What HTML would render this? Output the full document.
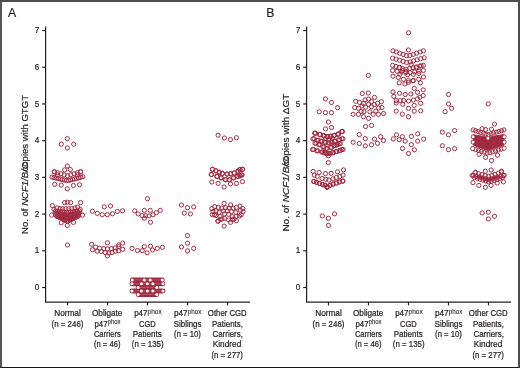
<!DOCTYPE html>
<html><head><meta charset="utf-8"><style>
html,body{margin:0;padding:0;background:#fff;}
body{width:520px;height:368px;overflow:hidden;position:relative;font-family:"Liberation Sans",sans-serif;}
.frame{position:absolute;left:0;top:0;width:520px;height:368px;box-sizing:border-box;border-style:solid;border-color:#4d4d4d #4d4d4d #161616 #555;border-width:2px 2px 1px 2px;}
svg{position:absolute;left:0;top:0;will-change:transform;}
</style></head><body>
<svg width="520" height="368" viewBox="0 0 520 368">
<g stroke="#231f20" stroke-width="1.2" fill="none"><path d="M45.6,26.5 V302.1 H250" stroke-linejoin="round"/><line x1="42.2" y1="287.50" x2="45.6" y2="287.50" /><line x1="42.2" y1="250.79" x2="45.6" y2="250.79" /><line x1="42.2" y1="214.08" x2="45.6" y2="214.08" /><line x1="42.2" y1="177.37" x2="45.6" y2="177.37" /><line x1="42.2" y1="140.66" x2="45.6" y2="140.66" /><line x1="42.2" y1="103.95" x2="45.6" y2="103.95" /><line x1="42.2" y1="67.24" x2="45.6" y2="67.24" /><line x1="42.2" y1="30.53" x2="45.6" y2="30.53" /><line x1="67.5" y1="302" x2="67.5" y2="305.4" /><line x1="107.5" y1="302" x2="107.5" y2="305.4" /><line x1="147.5" y1="302" x2="147.5" y2="305.4" /><line x1="187.5" y1="302" x2="187.5" y2="305.4" /><line x1="227.5" y1="302" x2="227.5" y2="305.4" /><path d="M306.6,26.5 V302.1 H511" stroke-linejoin="round"/><line x1="303.20000000000005" y1="287.50" x2="306.6" y2="287.50" /><line x1="303.20000000000005" y1="250.79" x2="306.6" y2="250.79" /><line x1="303.20000000000005" y1="214.08" x2="306.6" y2="214.08" /><line x1="303.20000000000005" y1="177.37" x2="306.6" y2="177.37" /><line x1="303.20000000000005" y1="140.66" x2="306.6" y2="140.66" /><line x1="303.20000000000005" y1="103.95" x2="306.6" y2="103.95" /><line x1="303.20000000000005" y1="67.24" x2="306.6" y2="67.24" /><line x1="303.20000000000005" y1="30.53" x2="306.6" y2="30.53" /><line x1="328.5" y1="302" x2="328.5" y2="305.4" /><line x1="368.5" y1="302" x2="368.5" y2="305.4" /><line x1="408.5" y1="302" x2="408.5" y2="305.4" /><line x1="448.5" y1="302" x2="448.5" y2="305.4" /><line x1="488.5" y1="302" x2="488.5" y2="305.4" /></g>
<g fill="#231f20" stroke="#231f20" stroke-width="0.2" font-family="Liberation Sans, sans-serif" font-size="8.2"><text x="39.2" y="290.10" text-anchor="end">0</text><text x="39.2" y="253.39" text-anchor="end">1</text><text x="39.2" y="216.68" text-anchor="end">2</text><text x="39.2" y="179.97" text-anchor="end">3</text><text x="39.2" y="143.26" text-anchor="end">4</text><text x="39.2" y="106.55" text-anchor="end">5</text><text x="39.2" y="69.84" text-anchor="end">6</text><text x="39.2" y="33.13" text-anchor="end">7</text><text x="300.2" y="290.10" text-anchor="end">0</text><text x="300.2" y="253.39" text-anchor="end">1</text><text x="300.2" y="216.68" text-anchor="end">2</text><text x="300.2" y="179.97" text-anchor="end">3</text><text x="300.2" y="143.26" text-anchor="end">4</text><text x="300.2" y="106.55" text-anchor="end">5</text><text x="300.2" y="69.84" text-anchor="end">6</text><text x="300.2" y="33.13" text-anchor="end">7</text></g>
<g fill="#231f20" stroke="#231f20" stroke-width="0.22" font-family="Liberation Sans, sans-serif" font-size="8.3"><text x="54.20" y="316.4" textLength="26.6" lengthAdjust="spacingAndGlyphs">Normal</text><text x="51.50" y="326.7" textLength="32.0" lengthAdjust="spacingAndGlyphs">(n = 246)</text><text x="92.00" y="316.4" textLength="30.4" lengthAdjust="spacingAndGlyphs">Obligate</text><text x="94.50" y="326.7" textLength="13.1" lengthAdjust="spacingAndGlyphs">p47</text><text x="107.80" y="324.00" font-size="6.4" stroke-width="0.08" textLength="12.7" lengthAdjust="spacingAndGlyphs">phox</text><text x="93.90" y="337.1" textLength="26.8" lengthAdjust="spacingAndGlyphs">Carriers</text><text x="93.95" y="347.4" textLength="26.5" lengthAdjust="spacingAndGlyphs">(n = 46)</text><text x="134.25" y="316.4" textLength="13.1" lengthAdjust="spacingAndGlyphs">p47</text><text x="147.55" y="313.70" font-size="6.4" stroke-width="0.08" textLength="14.2" lengthAdjust="spacingAndGlyphs">phox</text><text x="139.05" y="326.7" textLength="16.7" lengthAdjust="spacingAndGlyphs">CGD</text><text x="132.65" y="337.1" textLength="29.1" lengthAdjust="spacingAndGlyphs">Patients</text><text x="131.85" y="347.4" textLength="31.7" lengthAdjust="spacingAndGlyphs">(n = 135)</text><text x="174.05" y="316.4" textLength="13.6" lengthAdjust="spacingAndGlyphs">p47</text><text x="187.85" y="313.70" font-size="6.4" stroke-width="0.08" textLength="13.5" lengthAdjust="spacingAndGlyphs">phox</text><text x="173.85" y="326.7" textLength="27.5" lengthAdjust="spacingAndGlyphs">Siblings</text><text x="174.05" y="337.1" textLength="26.9" lengthAdjust="spacingAndGlyphs">(n = 10)</text><text x="207.85" y="316.4" textLength="38.9" lengthAdjust="spacingAndGlyphs">Other CGD</text><text x="212.05" y="326.7" textLength="30.9" lengthAdjust="spacingAndGlyphs">Patients,</text><text x="212.45" y="337.1" textLength="30.5" lengthAdjust="spacingAndGlyphs">Carriers,</text><text x="212.70" y="347.4" textLength="28.6" lengthAdjust="spacingAndGlyphs">Kindred</text><text x="211.50" y="357.7" textLength="31.4" lengthAdjust="spacingAndGlyphs">(n = 277)</text><text x="315.20" y="316.4" textLength="26.6" lengthAdjust="spacingAndGlyphs">Normal</text><text x="312.50" y="326.7" textLength="32.0" lengthAdjust="spacingAndGlyphs">(n = 246)</text><text x="353.00" y="316.4" textLength="30.4" lengthAdjust="spacingAndGlyphs">Obligate</text><text x="355.50" y="326.7" textLength="13.1" lengthAdjust="spacingAndGlyphs">p47</text><text x="368.80" y="324.00" font-size="6.4" stroke-width="0.08" textLength="12.7" lengthAdjust="spacingAndGlyphs">phox</text><text x="354.90" y="337.1" textLength="26.8" lengthAdjust="spacingAndGlyphs">Carriers</text><text x="354.95" y="347.4" textLength="26.5" lengthAdjust="spacingAndGlyphs">(n = 46)</text><text x="395.25" y="316.4" textLength="13.1" lengthAdjust="spacingAndGlyphs">p47</text><text x="408.55" y="313.70" font-size="6.4" stroke-width="0.08" textLength="14.2" lengthAdjust="spacingAndGlyphs">phox</text><text x="400.05" y="326.7" textLength="16.7" lengthAdjust="spacingAndGlyphs">CGD</text><text x="393.65" y="337.1" textLength="29.1" lengthAdjust="spacingAndGlyphs">Patients</text><text x="392.85" y="347.4" textLength="31.7" lengthAdjust="spacingAndGlyphs">(n = 135)</text><text x="435.05" y="316.4" textLength="13.6" lengthAdjust="spacingAndGlyphs">p47</text><text x="448.85" y="313.70" font-size="6.4" stroke-width="0.08" textLength="13.5" lengthAdjust="spacingAndGlyphs">phox</text><text x="434.85" y="326.7" textLength="27.5" lengthAdjust="spacingAndGlyphs">Siblings</text><text x="435.05" y="337.1" textLength="26.9" lengthAdjust="spacingAndGlyphs">(n = 10)</text><text x="468.85" y="316.4" textLength="38.9" lengthAdjust="spacingAndGlyphs">Other CGD</text><text x="473.05" y="326.7" textLength="30.9" lengthAdjust="spacingAndGlyphs">Patients,</text><text x="473.45" y="337.1" textLength="30.5" lengthAdjust="spacingAndGlyphs">Carriers,</text><text x="473.70" y="347.4" textLength="28.6" lengthAdjust="spacingAndGlyphs">Kindred</text><text x="472.50" y="357.7" textLength="31.4" lengthAdjust="spacingAndGlyphs">(n = 277)</text></g>
<g fill="#231f20" stroke="#231f20" stroke-width="0.2" font-family="Liberation Sans, sans-serif">
<text x="8.0" y="16.8" font-size="12.2">A</text>
<text x="266.3" y="16.7" font-size="12.2">B</text>
<text transform="translate(27.8,234.0) rotate(-90)" x="0" y="0" font-size="9.6" textLength="139.0" lengthAdjust="spacingAndGlyphs">No. of <tspan font-style="italic">NCF1/B/C</tspan><tspan dx="-9.2">copies with GTGT</tspan></text>
<text transform="translate(289.0,231.6) rotate(-90)" x="0" y="0" font-size="9.6" textLength="138.0" lengthAdjust="spacingAndGlyphs">No. of <tspan font-style="italic">NCF1/B/C</tspan><tspan dx="-9.2">copies with &#916;GT</tspan></text>
</g>
<g stroke="#a02a40" stroke-width="4.8" stroke-linecap="round"><line x1="132.2" y1="279.9" x2="162.3" y2="279.9"/><line x1="131.9" y1="283.8" x2="163.0" y2="283.8"/><line x1="138.1" y1="287.4" x2="156.8" y2="287.4"/><line x1="131.9" y1="291.0" x2="163.0" y2="291.0"/><line x1="138.1" y1="294.5" x2="156.8" y2="294.5"/></g><polygon points="473.5,134.8 480,135.8 488,137.6 496,135.8 503.8,134.6 503.8,145.3 496,147.8 488,150.4 480,147.8 473.5,145.3" fill="#a02a40" stroke="#a02a40" stroke-width="1" stroke-linejoin="round"/><polygon points="478,176.0 488.8,179.0 499.5,175.5 499.5,177.0 488.8,181.0 478,177.5" fill="#a02a40" stroke="#a02a40" stroke-width="1" stroke-linejoin="round"/>
<g fill="none" stroke="#a02a40" stroke-width="1.0"><circle cx="67.30" cy="138.70" r="2.1"/><circle cx="61.30" cy="144.20" r="2.1"/><circle cx="73.70" cy="144.20" r="2.1"/><circle cx="67.30" cy="147.90" r="2.1"/><circle cx="67.30" cy="166.00" r="2.1"/><circle cx="64.60" cy="169.90" r="2.1"/><circle cx="70.30" cy="169.50" r="2.1"/><circle cx="54.30" cy="171.80" r="2.1"/><circle cx="80.60" cy="171.80" r="2.1"/><circle cx="54.30" cy="171.80" r="2.1"/><circle cx="57.58" cy="172.81" r="2.1"/><circle cx="60.87" cy="173.82" r="2.1"/><circle cx="64.15" cy="174.83" r="2.1"/><circle cx="67.44" cy="175.76" r="2.1"/><circle cx="70.73" cy="174.77" r="2.1"/><circle cx="74.02" cy="173.78" r="2.1"/><circle cx="77.31" cy="172.79" r="2.1"/><circle cx="80.60" cy="171.80" r="2.1"/><circle cx="52.00" cy="177.10" r="2.1"/><circle cx="54.07" cy="177.59" r="2.1"/><circle cx="56.13" cy="178.09" r="2.1"/><circle cx="58.20" cy="178.58" r="2.1"/><circle cx="60.27" cy="179.07" r="2.1"/><circle cx="62.33" cy="179.57" r="2.1"/><circle cx="64.40" cy="180.06" r="2.1"/><circle cx="66.47" cy="180.55" r="2.1"/><circle cx="68.53" cy="180.53" r="2.1"/><circle cx="70.58" cy="179.98" r="2.1"/><circle cx="72.63" cy="179.43" r="2.1"/><circle cx="74.69" cy="178.89" r="2.1"/><circle cx="76.74" cy="178.34" r="2.1"/><circle cx="78.79" cy="177.79" r="2.1"/><circle cx="80.85" cy="177.25" r="2.1"/><circle cx="82.90" cy="176.70" r="2.1"/><circle cx="57.50" cy="175.00" r="2.1"/><circle cx="77.50" cy="174.80" r="2.1"/><circle cx="54.70" cy="184.30" r="2.1"/><circle cx="61.20" cy="185.10" r="2.1"/><circle cx="73.40" cy="185.50" r="2.1"/><circle cx="79.50" cy="184.70" r="2.1"/><circle cx="67.30" cy="188.90" r="2.1"/><circle cx="64.60" cy="202.60" r="2.1"/><circle cx="67.30" cy="202.20" r="2.1"/><circle cx="70.70" cy="202.60" r="2.1"/><circle cx="52.40" cy="205.60" r="2.1"/><circle cx="80.60" cy="202.60" r="2.1"/><circle cx="54.00" cy="209.40" r="2.1"/><circle cx="57.00" cy="207.90" r="2.1"/><circle cx="60.00" cy="208.70" r="2.1"/><circle cx="62.70" cy="208.70" r="2.1"/><circle cx="65.80" cy="208.70" r="2.1"/><circle cx="68.80" cy="208.70" r="2.1"/><circle cx="71.80" cy="208.70" r="2.1"/><circle cx="74.90" cy="207.90" r="2.1"/><circle cx="77.60" cy="207.10" r="2.1"/><circle cx="80.20" cy="209.40" r="2.1"/><circle cx="55.50" cy="211.00" r="2.1"/><circle cx="57.68" cy="211.28" r="2.1"/><circle cx="59.86" cy="211.55" r="2.1"/><circle cx="62.04" cy="211.83" r="2.1"/><circle cx="64.22" cy="212.11" r="2.1"/><circle cx="66.41" cy="212.39" r="2.1"/><circle cx="68.59" cy="212.34" r="2.1"/><circle cx="70.77" cy="212.07" r="2.1"/><circle cx="72.95" cy="211.80" r="2.1"/><circle cx="75.14" cy="211.54" r="2.1"/><circle cx="77.32" cy="211.27" r="2.1"/><circle cx="79.50" cy="211.00" r="2.1"/><circle cx="55.00" cy="213.00" r="2.1"/><circle cx="56.92" cy="213.31" r="2.1"/><circle cx="58.84" cy="213.63" r="2.1"/><circle cx="60.77" cy="213.94" r="2.1"/><circle cx="62.69" cy="214.25" r="2.1"/><circle cx="64.61" cy="214.56" r="2.1"/><circle cx="66.53" cy="214.88" r="2.1"/><circle cx="68.46" cy="214.82" r="2.1"/><circle cx="70.38" cy="214.51" r="2.1"/><circle cx="72.30" cy="214.21" r="2.1"/><circle cx="74.23" cy="213.91" r="2.1"/><circle cx="76.15" cy="213.61" r="2.1"/><circle cx="78.08" cy="213.30" r="2.1"/><circle cx="80.00" cy="213.00" r="2.1"/><circle cx="55.50" cy="215.00" r="2.1"/><circle cx="57.35" cy="215.34" r="2.1"/><circle cx="59.19" cy="215.69" r="2.1"/><circle cx="61.04" cy="216.03" r="2.1"/><circle cx="62.88" cy="216.38" r="2.1"/><circle cx="64.73" cy="216.72" r="2.1"/><circle cx="66.57" cy="217.06" r="2.1"/><circle cx="68.42" cy="217.00" r="2.1"/><circle cx="70.26" cy="216.67" r="2.1"/><circle cx="72.11" cy="216.33" r="2.1"/><circle cx="73.96" cy="216.00" r="2.1"/><circle cx="75.81" cy="215.67" r="2.1"/><circle cx="77.65" cy="215.33" r="2.1"/><circle cx="79.50" cy="215.00" r="2.1"/><circle cx="57.00" cy="216.50" r="2.1"/><circle cx="58.91" cy="216.96" r="2.1"/><circle cx="60.81" cy="217.43" r="2.1"/><circle cx="62.72" cy="217.89" r="2.1"/><circle cx="64.63" cy="218.35" r="2.1"/><circle cx="66.54" cy="218.81" r="2.1"/><circle cx="68.44" cy="218.73" r="2.1"/><circle cx="70.36" cy="218.29" r="2.1"/><circle cx="72.27" cy="217.84" r="2.1"/><circle cx="74.18" cy="217.39" r="2.1"/><circle cx="76.09" cy="216.95" r="2.1"/><circle cx="78.00" cy="216.50" r="2.1"/><circle cx="59.50" cy="217.50" r="2.1"/><circle cx="61.49" cy="218.27" r="2.1"/><circle cx="63.49" cy="219.03" r="2.1"/><circle cx="65.48" cy="219.80" r="2.1"/><circle cx="67.48" cy="220.44" r="2.1"/><circle cx="69.48" cy="219.70" r="2.1"/><circle cx="71.49" cy="218.97" r="2.1"/><circle cx="73.49" cy="218.23" r="2.1"/><circle cx="75.50" cy="217.50" r="2.1"/><circle cx="62.50" cy="218.80" r="2.1"/><circle cx="64.98" cy="220.24" r="2.1"/><circle cx="67.45" cy="221.52" r="2.1"/><circle cx="69.98" cy="220.16" r="2.1"/><circle cx="72.50" cy="218.80" r="2.1"/><circle cx="51.70" cy="215.10" r="2.1"/><circle cx="82.50" cy="215.10" r="2.1"/><circle cx="61.20" cy="222.80" r="2.1"/><circle cx="73.40" cy="222.40" r="2.1"/><circle cx="67.30" cy="225.40" r="2.1"/><circle cx="67.50" cy="245.00" r="2.1"/><circle cx="104.30" cy="206.90" r="2.1"/><circle cx="110.50" cy="206.00" r="2.1"/><circle cx="92.50" cy="211.20" r="2.1"/><circle cx="97.30" cy="213.40" r="2.1"/><circle cx="102.30" cy="214.70" r="2.1"/><circle cx="107.30" cy="214.70" r="2.1"/><circle cx="112.50" cy="213.80" r="2.1"/><circle cx="117.30" cy="211.50" r="2.1"/><circle cx="122.50" cy="210.80" r="2.1"/><circle cx="107.40" cy="242.80" r="2.1"/><circle cx="91.70" cy="244.20" r="2.1"/><circle cx="122.70" cy="243.10" r="2.1"/><circle cx="118.70" cy="244.90" r="2.1"/><circle cx="95.70" cy="247.10" r="2.1"/><circle cx="99.70" cy="248.20" r="2.1"/><circle cx="103.70" cy="248.60" r="2.1"/><circle cx="107.40" cy="249.00" r="2.1"/><circle cx="111.40" cy="248.60" r="2.1"/><circle cx="115.00" cy="247.90" r="2.1"/><circle cx="118.70" cy="246.80" r="2.1"/><circle cx="92.40" cy="249.70" r="2.1"/><circle cx="122.70" cy="249.30" r="2.1"/><circle cx="97.10" cy="251.20" r="2.1"/><circle cx="101.20" cy="251.50" r="2.1"/><circle cx="105.20" cy="252.60" r="2.1"/><circle cx="108.80" cy="253.00" r="2.1"/><circle cx="112.10" cy="252.60" r="2.1"/><circle cx="115.40" cy="251.20" r="2.1"/><circle cx="118.70" cy="250.80" r="2.1"/><circle cx="107.40" cy="255.90" r="2.1"/><circle cx="147.50" cy="198.70" r="2.1"/><circle cx="134.70" cy="210.90" r="2.1"/><circle cx="144.30" cy="210.40" r="2.1"/><circle cx="150.30" cy="210.40" r="2.1"/><circle cx="160.30" cy="210.40" r="2.1"/><circle cx="138.20" cy="213.90" r="2.1"/><circle cx="142.10" cy="215.70" r="2.1"/><circle cx="145.60" cy="215.70" r="2.1"/><circle cx="149.00" cy="215.90" r="2.1"/><circle cx="153.00" cy="214.80" r="2.1"/><circle cx="156.40" cy="212.60" r="2.1"/><circle cx="144.30" cy="218.30" r="2.1"/><circle cx="150.50" cy="222.20" r="2.1"/><circle cx="132.10" cy="248.40" r="2.1"/><circle cx="137.50" cy="250.50" r="2.1"/><circle cx="142.30" cy="250.70" r="2.1"/><circle cx="144.30" cy="246.60" r="2.1"/><circle cx="147.10" cy="252.80" r="2.1"/><circle cx="150.50" cy="246.20" r="2.1"/><circle cx="152.50" cy="250.00" r="2.1"/><circle cx="157.30" cy="248.40" r="2.1"/><circle cx="162.40" cy="247.30" r="2.1"/><circle cx="181.50" cy="205.00" r="2.1"/><circle cx="187.50" cy="207.70" r="2.1"/><circle cx="193.70" cy="206.90" r="2.1"/><circle cx="184.20" cy="213.10" r="2.1"/><circle cx="190.40" cy="213.90" r="2.1"/><circle cx="187.50" cy="235.60" r="2.1"/><circle cx="187.50" cy="243.20" r="2.1"/><circle cx="181.50" cy="247.00" r="2.1"/><circle cx="193.70" cy="248.40" r="2.1"/><circle cx="187.50" cy="250.90" r="2.1"/><circle cx="218.10" cy="135.20" r="2.1"/><circle cx="224.40" cy="138.00" r="2.1"/><circle cx="230.40" cy="139.60" r="2.1"/><circle cx="236.40" cy="137.70" r="2.1"/><circle cx="212.35" cy="169.30" r="2.1"/><circle cx="212.65" cy="169.30" r="2.1"/><circle cx="215.75" cy="170.80" r="2.1"/><circle cx="216.05" cy="170.80" r="2.1"/><circle cx="219.15" cy="172.30" r="2.1"/><circle cx="219.45" cy="172.30" r="2.1"/><circle cx="222.15" cy="173.40" r="2.1"/><circle cx="222.45" cy="173.40" r="2.1"/><circle cx="226.95" cy="174.10" r="2.1"/><circle cx="227.25" cy="174.10" r="2.1"/><circle cx="230.35" cy="173.80" r="2.1"/><circle cx="230.65" cy="173.80" r="2.1"/><circle cx="234.15" cy="173.00" r="2.1"/><circle cx="234.45" cy="173.00" r="2.1"/><circle cx="237.85" cy="171.10" r="2.1"/><circle cx="238.15" cy="171.10" r="2.1"/><circle cx="239.75" cy="169.60" r="2.1"/><circle cx="240.05" cy="169.60" r="2.1"/><circle cx="242.35" cy="169.30" r="2.1"/><circle cx="242.65" cy="169.30" r="2.1"/><circle cx="211.10" cy="174.50" r="2.1"/><circle cx="211.70" cy="174.50" r="2.1"/><circle cx="216.70" cy="176.40" r="2.1"/><circle cx="217.30" cy="176.40" r="2.1"/><circle cx="220.80" cy="177.90" r="2.1"/><circle cx="221.40" cy="177.90" r="2.1"/><circle cx="225.30" cy="179.80" r="2.1"/><circle cx="225.90" cy="179.80" r="2.1"/><circle cx="229.10" cy="179.80" r="2.1"/><circle cx="229.70" cy="179.80" r="2.1"/><circle cx="233.20" cy="177.90" r="2.1"/><circle cx="233.80" cy="177.90" r="2.1"/><circle cx="237.30" cy="176.40" r="2.1"/><circle cx="237.90" cy="176.40" r="2.1"/><circle cx="239.70" cy="175.80" r="2.1"/><circle cx="240.30" cy="175.80" r="2.1"/><circle cx="241.50" cy="174.90" r="2.1"/><circle cx="242.10" cy="174.90" r="2.1"/><circle cx="211.80" cy="182.00" r="2.1"/><circle cx="218.10" cy="183.40" r="2.1"/><circle cx="224.10" cy="187.00" r="2.1"/><circle cx="230.50" cy="183.90" r="2.1"/><circle cx="236.50" cy="183.40" r="2.1"/><circle cx="242.50" cy="181.60" r="2.1"/><circle cx="224.10" cy="203.30" r="2.1"/><circle cx="230.60" cy="204.90" r="2.1"/><circle cx="211.90" cy="208.60" r="2.1"/><circle cx="214.70" cy="206.60" r="2.1"/><circle cx="218.40" cy="207.40" r="2.1"/><circle cx="221.70" cy="208.20" r="2.1"/><circle cx="225.70" cy="207.80" r="2.1"/><circle cx="229.00" cy="208.20" r="2.1"/><circle cx="233.10" cy="208.20" r="2.1"/><circle cx="236.30" cy="207.40" r="2.1"/><circle cx="240.00" cy="206.10" r="2.1"/><circle cx="242.80" cy="208.60" r="2.1"/><circle cx="216.00" cy="211.00" r="2.1"/><circle cx="219.20" cy="212.30" r="2.1"/><circle cx="223.30" cy="211.00" r="2.1"/><circle cx="227.40" cy="211.00" r="2.1"/><circle cx="231.50" cy="211.50" r="2.1"/><circle cx="235.90" cy="212.30" r="2.1"/><circle cx="240.40" cy="210.20" r="2.1"/><circle cx="213.00" cy="211.50" r="2.1"/><circle cx="243.00" cy="211.80" r="2.1"/><circle cx="212.30" cy="214.70" r="2.1"/><circle cx="216.00" cy="215.50" r="2.1"/><circle cx="220.00" cy="216.30" r="2.1"/><circle cx="224.50" cy="213.90" r="2.1"/><circle cx="228.60" cy="214.30" r="2.1"/><circle cx="232.30" cy="216.70" r="2.1"/><circle cx="236.30" cy="216.30" r="2.1"/><circle cx="241.20" cy="214.70" r="2.1"/><circle cx="224.50" cy="218.40" r="2.1"/><circle cx="228.60" cy="220.00" r="2.1"/><circle cx="220.50" cy="219.50" r="2.1"/><circle cx="232.50" cy="219.50" r="2.1"/><circle cx="214.50" cy="214.80" r="2.1"/><circle cx="222.00" cy="219.00" r="2.1"/><circle cx="234.00" cy="219.00" r="2.1"/><circle cx="239.50" cy="216.00" r="2.1"/><circle cx="218.00" cy="221.20" r="2.1"/><circle cx="230.60" cy="222.40" r="2.1"/><circle cx="236.30" cy="220.80" r="2.1"/><circle cx="224.10" cy="226.10" r="2.1"/><circle cx="217.90" cy="221.10" r="2.1"/><circle cx="325.40" cy="98.90" r="2.1"/><circle cx="331.40" cy="102.50" r="2.1"/><circle cx="337.60" cy="107.70" r="2.1"/><circle cx="319.20" cy="111.80" r="2.1"/><circle cx="325.40" cy="112.60" r="2.1"/><circle cx="331.40" cy="112.60" r="2.1"/><circle cx="328.40" cy="122.00" r="2.1"/><circle cx="325.50" cy="128.90" r="2.1"/><circle cx="331.50" cy="127.50" r="2.1"/><circle cx="315.10" cy="133.20" r="2.1"/><circle cx="319.90" cy="134.50" r="2.1"/><circle cx="323.80" cy="135.80" r="2.1"/><circle cx="327.30" cy="136.70" r="2.1"/><circle cx="330.80" cy="136.30" r="2.1"/><circle cx="334.20" cy="135.40" r="2.1"/><circle cx="338.20" cy="134.10" r="2.1"/><circle cx="342.10" cy="131.50" r="2.1"/><circle cx="312.95" cy="138.80" r="2.1"/><circle cx="314.05" cy="138.80" r="2.1"/><circle cx="317.05" cy="140.20" r="2.1"/><circle cx="318.15" cy="140.20" r="2.1"/><circle cx="320.85" cy="141.20" r="2.1"/><circle cx="321.95" cy="141.20" r="2.1"/><circle cx="324.45" cy="142.30" r="2.1"/><circle cx="325.55" cy="142.30" r="2.1"/><circle cx="330.95" cy="142.00" r="2.1"/><circle cx="332.05" cy="142.00" r="2.1"/><circle cx="334.35" cy="141.20" r="2.1"/><circle cx="335.45" cy="141.20" r="2.1"/><circle cx="338.55" cy="139.80" r="2.1"/><circle cx="339.65" cy="139.80" r="2.1"/><circle cx="341.95" cy="138.80" r="2.1"/><circle cx="343.05" cy="138.80" r="2.1"/><circle cx="314.95" cy="143.30" r="2.1"/><circle cx="316.05" cy="143.30" r="2.1"/><circle cx="318.75" cy="144.70" r="2.1"/><circle cx="319.85" cy="144.70" r="2.1"/><circle cx="322.95" cy="146.80" r="2.1"/><circle cx="324.05" cy="146.80" r="2.1"/><circle cx="326.05" cy="148.50" r="2.1"/><circle cx="327.15" cy="148.50" r="2.1"/><circle cx="328.15" cy="143.00" r="2.1"/><circle cx="329.25" cy="143.00" r="2.1"/><circle cx="330.55" cy="147.50" r="2.1"/><circle cx="331.65" cy="147.50" r="2.1"/><circle cx="334.05" cy="145.70" r="2.1"/><circle cx="335.15" cy="145.70" r="2.1"/><circle cx="339.25" cy="143.70" r="2.1"/><circle cx="340.35" cy="143.70" r="2.1"/><circle cx="336.65" cy="144.70" r="2.1"/><circle cx="337.75" cy="144.70" r="2.1"/><circle cx="312.55" cy="149.50" r="2.1"/><circle cx="313.65" cy="149.50" r="2.1"/><circle cx="316.75" cy="150.90" r="2.1"/><circle cx="317.85" cy="150.90" r="2.1"/><circle cx="321.55" cy="152.00" r="2.1"/><circle cx="322.65" cy="152.00" r="2.1"/><circle cx="323.95" cy="152.80" r="2.1"/><circle cx="325.05" cy="152.80" r="2.1"/><circle cx="326.45" cy="153.70" r="2.1"/><circle cx="327.55" cy="153.70" r="2.1"/><circle cx="329.25" cy="153.50" r="2.1"/><circle cx="330.35" cy="153.50" r="2.1"/><circle cx="332.35" cy="152.70" r="2.1"/><circle cx="333.45" cy="152.70" r="2.1"/><circle cx="335.75" cy="151.60" r="2.1"/><circle cx="336.85" cy="151.60" r="2.1"/><circle cx="339.25" cy="150.60" r="2.1"/><circle cx="340.35" cy="150.60" r="2.1"/><circle cx="341.95" cy="149.50" r="2.1"/><circle cx="343.05" cy="149.50" r="2.1"/><circle cx="314.80" cy="133.20" r="2.1"/><circle cx="315.40" cy="133.20" r="2.1"/><circle cx="319.60" cy="134.50" r="2.1"/><circle cx="320.20" cy="134.50" r="2.1"/><circle cx="323.50" cy="135.80" r="2.1"/><circle cx="324.10" cy="135.80" r="2.1"/><circle cx="327.00" cy="136.70" r="2.1"/><circle cx="327.60" cy="136.70" r="2.1"/><circle cx="330.50" cy="136.30" r="2.1"/><circle cx="331.10" cy="136.30" r="2.1"/><circle cx="333.90" cy="135.40" r="2.1"/><circle cx="334.50" cy="135.40" r="2.1"/><circle cx="337.90" cy="134.10" r="2.1"/><circle cx="338.50" cy="134.10" r="2.1"/><circle cx="341.80" cy="131.50" r="2.1"/><circle cx="342.40" cy="131.50" r="2.1"/><circle cx="328.40" cy="155.80" r="2.1"/><circle cx="328.70" cy="139.50" r="2.1"/><circle cx="325.50" cy="138.50" r="2.1"/><circle cx="332.00" cy="138.20" r="2.1"/><circle cx="328.30" cy="162.60" r="2.1"/><circle cx="313.10" cy="171.40" r="2.1"/><circle cx="319.10" cy="172.50" r="2.1"/><circle cx="325.50" cy="173.60" r="2.1"/><circle cx="331.10" cy="173.30" r="2.1"/><circle cx="337.50" cy="171.80" r="2.1"/><circle cx="343.50" cy="169.90" r="2.1"/><circle cx="314.30" cy="175.10" r="2.1"/><circle cx="317.30" cy="176.30" r="2.1"/><circle cx="322.10" cy="178.50" r="2.1"/><circle cx="325.90" cy="179.30" r="2.1"/><circle cx="328.90" cy="180.00" r="2.1"/><circle cx="333.00" cy="178.90" r="2.1"/><circle cx="336.40" cy="177.40" r="2.1"/><circle cx="339.80" cy="176.60" r="2.1"/><circle cx="343.10" cy="175.10" r="2.1"/><circle cx="313.75" cy="181.50" r="2.1"/><circle cx="314.05" cy="181.50" r="2.1"/><circle cx="316.35" cy="182.30" r="2.1"/><circle cx="316.65" cy="182.30" r="2.1"/><circle cx="319.35" cy="183.40" r="2.1"/><circle cx="319.65" cy="183.40" r="2.1"/><circle cx="322.35" cy="184.50" r="2.1"/><circle cx="322.65" cy="184.50" r="2.1"/><circle cx="324.95" cy="185.30" r="2.1"/><circle cx="325.25" cy="185.30" r="2.1"/><circle cx="327.25" cy="186.80" r="2.1"/><circle cx="327.55" cy="186.80" r="2.1"/><circle cx="329.85" cy="185.30" r="2.1"/><circle cx="330.15" cy="185.30" r="2.1"/><circle cx="332.85" cy="184.10" r="2.1"/><circle cx="333.15" cy="184.10" r="2.1"/><circle cx="336.25" cy="183.00" r="2.1"/><circle cx="336.55" cy="183.00" r="2.1"/><circle cx="339.25" cy="181.90" r="2.1"/><circle cx="339.55" cy="181.90" r="2.1"/><circle cx="342.65" cy="181.10" r="2.1"/><circle cx="342.95" cy="181.10" r="2.1"/><circle cx="327.00" cy="187.50" r="2.1"/><circle cx="322.30" cy="215.90" r="2.1"/><circle cx="328.40" cy="218.20" r="2.1"/><circle cx="334.50" cy="213.90" r="2.1"/><circle cx="328.40" cy="225.40" r="2.1"/><circle cx="368.30" cy="75.50" r="2.1"/><circle cx="362.30" cy="93.50" r="2.1"/><circle cx="368.30" cy="93.00" r="2.1"/><circle cx="374.50" cy="97.40" r="2.1"/><circle cx="355.80" cy="101.30" r="2.1"/><circle cx="359.60" cy="102.40" r="2.1"/><circle cx="365.00" cy="99.90" r="2.1"/><circle cx="368.60" cy="99.10" r="2.1"/><circle cx="363.40" cy="103.50" r="2.1"/><circle cx="371.50" cy="101.50" r="2.1"/><circle cx="377.50" cy="103.20" r="2.1"/><circle cx="381.30" cy="101.70" r="2.1"/><circle cx="354.70" cy="107.50" r="2.1"/><circle cx="358.50" cy="108.30" r="2.1"/><circle cx="365.60" cy="107.20" r="2.1"/><circle cx="371.50" cy="106.70" r="2.1"/><circle cx="374.30" cy="104.60" r="2.1"/><circle cx="378.60" cy="108.00" r="2.1"/><circle cx="381.90" cy="107.50" r="2.1"/><circle cx="361.20" cy="111.50" r="2.1"/><circle cx="363.90" cy="111.80" r="2.1"/><circle cx="369.90" cy="111.80" r="2.1"/><circle cx="375.90" cy="111.10" r="2.1"/><circle cx="353.10" cy="114.30" r="2.1"/><circle cx="358.50" cy="114.30" r="2.1"/><circle cx="373.20" cy="114.30" r="2.1"/><circle cx="378.40" cy="114.30" r="2.1"/><circle cx="383.50" cy="113.50" r="2.1"/><circle cx="363.40" cy="116.70" r="2.1"/><circle cx="368.60" cy="118.40" r="2.1"/><circle cx="365.60" cy="126.50" r="2.1"/><circle cx="371.50" cy="125.40" r="2.1"/><circle cx="368.50" cy="104.50" r="2.1"/><circle cx="362.00" cy="106.00" r="2.1"/><circle cx="359.30" cy="134.60" r="2.1"/><circle cx="365.30" cy="138.60" r="2.1"/><circle cx="374.50" cy="139.10" r="2.1"/><circle cx="380.60" cy="136.70" r="2.1"/><circle cx="383.50" cy="140.50" r="2.1"/><circle cx="353.10" cy="142.20" r="2.1"/><circle cx="359.30" cy="143.50" r="2.1"/><circle cx="365.30" cy="145.90" r="2.1"/><circle cx="371.50" cy="144.80" r="2.1"/><circle cx="377.50" cy="143.30" r="2.1"/><circle cx="408.50" cy="32.80" r="2.1"/><circle cx="408.40" cy="50.00" r="2.1"/><circle cx="393.00" cy="50.80" r="2.1"/><circle cx="396.37" cy="52.01" r="2.1"/><circle cx="399.75" cy="53.23" r="2.1"/><circle cx="403.12" cy="54.44" r="2.1"/><circle cx="406.49" cy="55.66" r="2.1"/><circle cx="409.87" cy="55.54" r="2.1"/><circle cx="413.25" cy="54.36" r="2.1"/><circle cx="416.63" cy="53.17" r="2.1"/><circle cx="420.02" cy="51.99" r="2.1"/><circle cx="423.40" cy="50.80" r="2.1"/><circle cx="392.60" cy="58.10" r="2.1"/><circle cx="396.11" cy="59.18" r="2.1"/><circle cx="399.61" cy="60.26" r="2.1"/><circle cx="403.12" cy="61.35" r="2.1"/><circle cx="406.63" cy="62.43" r="2.1"/><circle cx="410.14" cy="61.91" r="2.1"/><circle cx="413.65" cy="60.86" r="2.1"/><circle cx="417.17" cy="59.81" r="2.1"/><circle cx="420.68" cy="58.75" r="2.1"/><circle cx="424.20" cy="57.70" r="2.1"/><circle cx="392.60" cy="65.30" r="2.1"/><circle cx="395.96" cy="66.44" r="2.1"/><circle cx="399.33" cy="67.58" r="2.1"/><circle cx="402.69" cy="68.72" r="2.1"/><circle cx="406.09" cy="69.25" r="2.1"/><circle cx="409.55" cy="68.46" r="2.1"/><circle cx="413.01" cy="67.67" r="2.1"/><circle cx="416.47" cy="66.88" r="2.1"/><circle cx="419.94" cy="66.09" r="2.1"/><circle cx="423.40" cy="65.30" r="2.1"/><circle cx="399.50" cy="67.40" r="2.1"/><circle cx="411.10" cy="64.70" r="2.1"/><circle cx="416.10" cy="67.80" r="2.1"/><circle cx="421.10" cy="65.80" r="2.1"/><circle cx="402.50" cy="70.50" r="2.1"/><circle cx="405.50" cy="71.50" r="2.1"/><circle cx="392.60" cy="70.50" r="2.1"/><circle cx="397.00" cy="71.23" r="2.1"/><circle cx="401.39" cy="71.97" r="2.1"/><circle cx="405.79" cy="72.70" r="2.1"/><circle cx="410.19" cy="72.59" r="2.1"/><circle cx="414.59" cy="71.89" r="2.1"/><circle cx="419.00" cy="71.20" r="2.1"/><circle cx="423.40" cy="70.50" r="2.1"/><circle cx="399.90" cy="74.30" r="2.1"/><circle cx="407.60" cy="74.70" r="2.1"/><circle cx="413.40" cy="74.30" r="2.1"/><circle cx="418.80" cy="73.50" r="2.1"/><circle cx="393.00" cy="76.20" r="2.1"/><circle cx="398.40" cy="77.40" r="2.1"/><circle cx="403.40" cy="79.30" r="2.1"/><circle cx="408.40" cy="80.50" r="2.1"/><circle cx="413.40" cy="80.50" r="2.1"/><circle cx="418.80" cy="79.30" r="2.1"/><circle cx="423.40" cy="77.00" r="2.1"/><circle cx="399.20" cy="82.80" r="2.1"/><circle cx="404.90" cy="83.90" r="2.1"/><circle cx="408.40" cy="82.40" r="2.1"/><circle cx="413.00" cy="80.80" r="2.1"/><circle cx="420.30" cy="82.80" r="2.1"/><circle cx="414.20" cy="88.30" r="2.1"/><circle cx="423.20" cy="89.90" r="2.1"/><circle cx="393.00" cy="91.90" r="2.1"/><circle cx="399.50" cy="93.20" r="2.1"/><circle cx="405.20" cy="94.50" r="2.1"/><circle cx="410.90" cy="94.00" r="2.1"/><circle cx="417.50" cy="92.30" r="2.1"/><circle cx="393.80" cy="96.40" r="2.1"/><circle cx="423.20" cy="95.60" r="2.1"/><circle cx="419.90" cy="97.20" r="2.1"/><circle cx="396.20" cy="100.50" r="2.1"/><circle cx="400.30" cy="100.50" r="2.1"/><circle cx="403.60" cy="100.50" r="2.1"/><circle cx="408.50" cy="101.00" r="2.1"/><circle cx="413.40" cy="100.00" r="2.1"/><circle cx="417.50" cy="98.90" r="2.1"/><circle cx="396.20" cy="103.00" r="2.1"/><circle cx="402.80" cy="104.30" r="2.1"/><circle cx="414.20" cy="105.40" r="2.1"/><circle cx="420.70" cy="103.30" r="2.1"/><circle cx="408.50" cy="108.30" r="2.1"/><circle cx="396.20" cy="111.10" r="2.1"/><circle cx="402.30" cy="114.10" r="2.1"/><circle cx="414.20" cy="111.10" r="2.1"/><circle cx="420.70" cy="110.80" r="2.1"/><circle cx="408.50" cy="116.80" r="2.1"/><circle cx="396.50" cy="134.80" r="2.1"/><circle cx="393.20" cy="138.90" r="2.1"/><circle cx="399.20" cy="139.70" r="2.1"/><circle cx="402.30" cy="136.70" r="2.1"/><circle cx="405.20" cy="141.10" r="2.1"/><circle cx="411.40" cy="136.40" r="2.1"/><circle cx="417.70" cy="133.90" r="2.1"/><circle cx="423.70" cy="139.10" r="2.1"/><circle cx="417.70" cy="141.10" r="2.1"/><circle cx="411.40" cy="144.60" r="2.1"/><circle cx="402.50" cy="148.40" r="2.1"/><circle cx="414.40" cy="149.80" r="2.1"/><circle cx="408.50" cy="153.50" r="2.1"/><circle cx="448.50" cy="94.50" r="2.1"/><circle cx="448.50" cy="104.00" r="2.1"/><circle cx="451.60" cy="108.20" r="2.1"/><circle cx="445.10" cy="111.60" r="2.1"/><circle cx="442.30" cy="132.10" r="2.1"/><circle cx="448.50" cy="134.80" r="2.1"/><circle cx="454.60" cy="130.60" r="2.1"/><circle cx="442.30" cy="145.80" r="2.1"/><circle cx="448.50" cy="149.60" r="2.1"/><circle cx="454.60" cy="148.70" r="2.1"/><circle cx="488.30" cy="103.90" r="2.1"/><circle cx="494.50" cy="124.10" r="2.1"/><circle cx="482.10" cy="128.70" r="2.1"/><circle cx="485.60" cy="129.60" r="2.1"/><circle cx="491.50" cy="129.20" r="2.1"/><circle cx="473.10" cy="129.90" r="2.1"/><circle cx="475.66" cy="130.76" r="2.1"/><circle cx="478.22" cy="131.62" r="2.1"/><circle cx="480.78" cy="132.48" r="2.1"/><circle cx="483.35" cy="133.34" r="2.1"/><circle cx="485.91" cy="134.20" r="2.1"/><circle cx="488.48" cy="134.57" r="2.1"/><circle cx="491.06" cy="133.79" r="2.1"/><circle cx="493.65" cy="133.01" r="2.1"/><circle cx="496.24" cy="132.23" r="2.1"/><circle cx="498.83" cy="131.46" r="2.1"/><circle cx="501.41" cy="130.68" r="2.1"/><circle cx="504.00" cy="129.90" r="2.1"/><circle cx="473.20" cy="136.90" r="2.1"/><circle cx="473.20" cy="142.10" r="2.1"/><circle cx="504.10" cy="136.90" r="2.1"/><circle cx="504.10" cy="142.10" r="2.1"/><circle cx="472.80" cy="148.60" r="2.1"/><circle cx="475.65" cy="149.50" r="2.1"/><circle cx="478.50" cy="150.40" r="2.1"/><circle cx="481.35" cy="151.30" r="2.1"/><circle cx="484.19" cy="152.20" r="2.1"/><circle cx="487.04" cy="153.10" r="2.1"/><circle cx="489.89" cy="152.79" r="2.1"/><circle cx="492.73" cy="151.87" r="2.1"/><circle cx="495.57" cy="150.95" r="2.1"/><circle cx="498.41" cy="150.04" r="2.1"/><circle cx="501.26" cy="149.12" r="2.1"/><circle cx="504.10" cy="148.20" r="2.1"/><circle cx="479.00" cy="154.30" r="2.1"/><circle cx="485.60" cy="157.40" r="2.1"/><circle cx="491.50" cy="160.50" r="2.1"/><circle cx="497.50" cy="155.20" r="2.1"/><circle cx="485.30" cy="171.20" r="2.1"/><circle cx="491.10" cy="170.00" r="2.1"/><circle cx="475.30" cy="172.30" r="2.1"/><circle cx="501.50" cy="171.20" r="2.1"/><circle cx="472.20" cy="175.40" r="2.1"/><circle cx="504.20" cy="175.40" r="2.1"/><circle cx="475.30" cy="172.80" r="2.1"/><circle cx="478.61" cy="173.71" r="2.1"/><circle cx="481.92" cy="174.62" r="2.1"/><circle cx="485.24" cy="175.52" r="2.1"/><circle cx="488.55" cy="176.43" r="2.1"/><circle cx="491.79" cy="175.44" r="2.1"/><circle cx="495.03" cy="174.29" r="2.1"/><circle cx="498.26" cy="173.15" r="2.1"/><circle cx="501.50" cy="172.00" r="2.1"/><circle cx="473.50" cy="175.50" r="2.1"/><circle cx="476.50" cy="176.29" r="2.1"/><circle cx="479.51" cy="177.07" r="2.1"/><circle cx="482.51" cy="177.86" r="2.1"/><circle cx="485.52" cy="178.64" r="2.1"/><circle cx="488.52" cy="179.43" r="2.1"/><circle cx="491.52" cy="178.76" r="2.1"/><circle cx="494.51" cy="177.95" r="2.1"/><circle cx="497.51" cy="177.13" r="2.1"/><circle cx="500.50" cy="176.32" r="2.1"/><circle cx="503.50" cy="175.50" r="2.1"/><circle cx="474.50" cy="177.50" r="2.1"/><circle cx="477.31" cy="178.38" r="2.1"/><circle cx="480.11" cy="179.27" r="2.1"/><circle cx="482.92" cy="180.15" r="2.1"/><circle cx="485.72" cy="181.03" r="2.1"/><circle cx="488.53" cy="181.91" r="2.1"/><circle cx="491.32" cy="181.17" r="2.1"/><circle cx="494.12" cy="180.25" r="2.1"/><circle cx="496.91" cy="179.34" r="2.1"/><circle cx="499.71" cy="178.42" r="2.1"/><circle cx="502.50" cy="177.50" r="2.1"/><circle cx="473.00" cy="182.70" r="2.1"/><circle cx="478.80" cy="185.40" r="2.1"/><circle cx="485.30" cy="187.30" r="2.1"/><circle cx="491.10" cy="185.40" r="2.1"/><circle cx="497.20" cy="183.10" r="2.1"/><circle cx="503.40" cy="181.90" r="2.1"/><circle cx="482.10" cy="212.90" r="2.1"/><circle cx="488.30" cy="212.20" r="2.1"/><circle cx="494.50" cy="216.20" r="2.1"/><circle cx="488.30" cy="218.90" r="2.1"/></g>
<circle cx="132.2" cy="279.9" r="1.5" fill="#fff"/><circle cx="144.3" cy="279.9" r="1.5" fill="#fff"/><circle cx="150.2" cy="279.9" r="1.5" fill="#fff"/><circle cx="162.3" cy="279.9" r="1.5" fill="#fff"/><circle cx="131.9" cy="283.8" r="1.5" fill="#fff"/><circle cx="141.4" cy="283.8" r="1.5" fill="#fff"/><circle cx="147.3" cy="283.8" r="1.5" fill="#fff"/><circle cx="152.9" cy="283.8" r="1.5" fill="#fff"/><circle cx="163.0" cy="283.8" r="1.5" fill="#fff"/><circle cx="138.1" cy="287.4" r="1.5" fill="#fff"/><circle cx="156.8" cy="287.4" r="1.5" fill="#fff"/><circle cx="131.9" cy="291.0" r="1.5" fill="#fff"/><circle cx="141.4" cy="291.0" r="1.5" fill="#fff"/><circle cx="147.3" cy="291.0" r="1.5" fill="#fff"/><circle cx="152.9" cy="291.0" r="1.5" fill="#fff"/><circle cx="163.0" cy="291.0" r="1.5" fill="#fff"/><circle cx="138.1" cy="294.5" r="1.5" fill="#fff"/><circle cx="156.8" cy="294.5" r="1.5" fill="#fff"/><line x1="132.2" y1="279.9" x2="162.3" y2="279.9" stroke="#fff" stroke-opacity="0.18" stroke-width="1.1"/><line x1="131.9" y1="283.8" x2="163.0" y2="283.8" stroke="#fff" stroke-opacity="0.18" stroke-width="1.1"/><line x1="138.1" y1="287.4" x2="156.8" y2="287.4" stroke="#fff" stroke-opacity="0.18" stroke-width="1.1"/><line x1="131.9" y1="291.0" x2="163.0" y2="291.0" stroke="#fff" stroke-opacity="0.18" stroke-width="1.1"/><line x1="138.1" y1="294.5" x2="156.8" y2="294.5" stroke="#fff" stroke-opacity="0.18" stroke-width="1.1"/><circle cx="51.7" cy="215.1" r="1.35" fill="#fff"/><circle cx="82.5" cy="215.1" r="1.35" fill="#fff"/><circle cx="473.2" cy="136.9" r="1.35" fill="#fff"/><circle cx="473.2" cy="142.1" r="1.35" fill="#fff"/><circle cx="504.1" cy="136.9" r="1.35" fill="#fff"/><circle cx="504.1" cy="142.1" r="1.35" fill="#fff"/><circle cx="488" cy="138.3" r="1.35" fill="#fff"/><circle cx="472.8" cy="148.6" r="1.35" fill="#fff"/><circle cx="504.1" cy="148.2" r="1.35" fill="#fff"/>
</svg>
<div class="frame"></div>
</body></html>
